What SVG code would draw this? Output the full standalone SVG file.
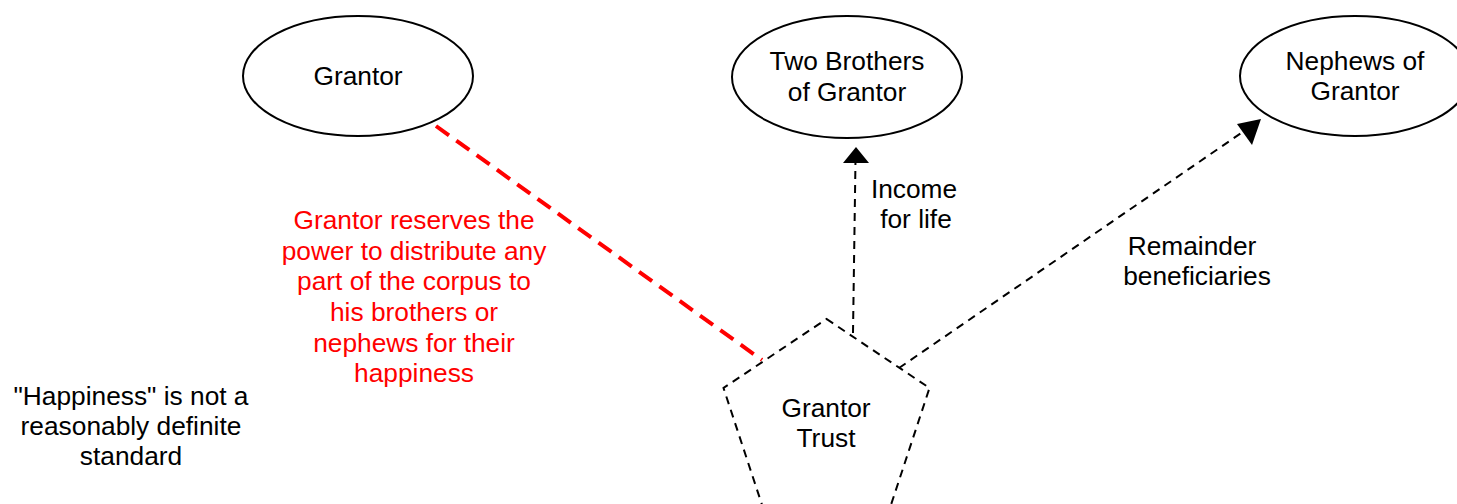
<svg xmlns="http://www.w3.org/2000/svg" width="1457" height="504" viewBox="0 0 1457 504">
<style>
.t{font-family:"Liberation Sans",Arial,sans-serif;font-size:26.3px;fill:#000;text-anchor:middle}
.r{fill:#ff0000}
.node{fill:#fff;stroke:#000;stroke-width:2}
.dash{fill:none;stroke:#000;stroke-width:2;stroke-dasharray:8 6}
.red{fill:none;stroke:#ff0000;stroke-width:4;stroke-dasharray:16 9}
</style>
<rect width="1457" height="504" fill="#fff"/>
<g id="connectors">
<line class="red" x1="436" y1="126" x2="762" y2="360"/>
<line class="dash" x1="853" y1="333" x2="855.5" y2="160"/>
<path d="M856,147 L869,163 L843,163 z" fill="#000"/>
<line class="dash" x1="899" y1="368" x2="1250" y2="127"/>
<path d="M1261,119 L1252,145 L1237,124 z" fill="#000"/>
</g>
<g id="grantor">
<ellipse class="node" cx="358" cy="76" rx="115" ry="60"/>
<text class="t" x="358" y="85">Grantor</text>
</g>
<g id="brothers">
<ellipse class="node" cx="847" cy="77" rx="115" ry="61"/>
<text class="t" x="847" y="70">Two Brothers</text>
<text class="t" x="847" y="101">of Grantor</text>
</g>
<g id="nephews">
<ellipse class="node" cx="1355" cy="76" rx="115" ry="60"/>
<text class="t" x="1355" y="70">Nephews of</text>
<text class="t" x="1355" y="100">Grantor</text>
</g>
<g id="trust">
<polygon class="dash" points="826.5,319 929.5,388 886,520 767,520 723.5,388"/>
<text class="t" x="826" y="417">Grantor</text>
<text class="t" x="826" y="447">Trust</text>
</g>
<g id="labels">
<text class="t" x="914" y="198">Income</text>
<text class="t" x="916" y="228">for life</text>
<text class="t" x="1192" y="255">Remainder</text>
<text class="t" x="1197" y="285">beneficiaries</text>
<text class="t r" x="414" y="229">Grantor reserves the</text>
<text class="t r" x="414" y="260">power to distribute any</text>
<text class="t r" x="414" y="290">part of the corpus to</text>
<text class="t r" x="414" y="321">his brothers or</text>
<text class="t r" x="414" y="352">nephews for their</text>
<text class="t r" x="414" y="382">happiness</text>
<text class="t" x="131" y="405">"Happiness" is not a</text>
<text class="t" x="131" y="435">reasonably definite</text>
<text class="t" x="131" y="465">standard</text>
</g>
</svg>
